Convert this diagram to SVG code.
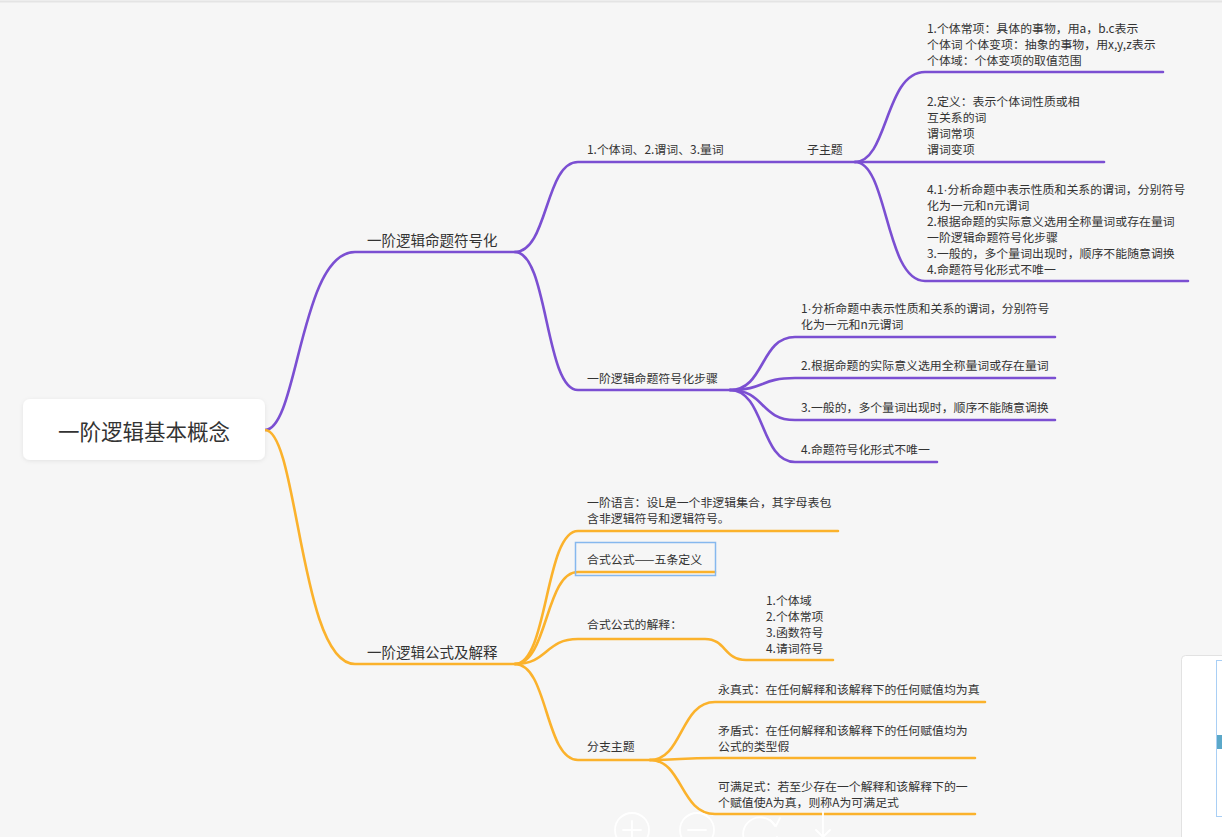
<svg xmlns="http://www.w3.org/2000/svg" width="1222" height="837" viewBox="0 0 1222 837">
<defs>
<style>
.p{fill:none;stroke:#7b4fd2;stroke-width:2.6;stroke-linecap:round}
.o{fill:none;stroke:#fbb22c;stroke-width:2.6;stroke-linecap:round}
.t{font-family:"Noto Sans CJK SC","Microsoft YaHei",sans-serif;fill:#333;font-size:11.9px}
.m{font-family:"Noto Sans CJK SC","Microsoft YaHei",sans-serif;fill:#333;font-size:14.5px}
.dot{font-family:"Liberation Sans",sans-serif}
.ui{fill:none;stroke:#ffffff;stroke-width:1.8;stroke-linecap:round}
</style>
<filter id="sh" x="-10%" y="-20%" width="120%" height="150%">
<feDropShadow dx="0" dy="1" stdDeviation="2" flood-color="#000" flood-opacity="0.08"/>
</filter>
</defs>
<rect width="1222" height="837" fill="#f6f6f6"/>
<line x1="0" y1="1.5" x2="1222" y2="1.5" stroke="#e4e4e4" stroke-width="2"/>

<g id="connectors">
<path class="p" d="M265,430 C298,430 300,252 355,252 L515,252"/>
<path class="p" d="M515,252 C548,252 545,162 578,162 L855,162"/>
<path class="p" d="M515,252 C548,252 545,390 578,390 L730,390"/>
<path class="p" d="M855,162 C888,162 885,72 925,72 L1163,72"/>
<path class="p" d="M855,162 L1104,162"/>
<path class="p" d="M855,162 C888,162 885,281 925,281 L1188,281"/>
<path class="p" d="M730,390 C765,390 760,337 795,337 L1055,337"/>
<path class="p" d="M730,390 C765,390 760,378 795,378 L1055,378"/>
<path class="p" d="M730,390 C765,390 760,420 795,420 L1055,420"/>
<path class="p" d="M730,390 C765,390 760,462 795,462 L937,462"/>

<path class="o" d="M265,430 C298,430 300,664 355,664 L515,664"/>
<path class="o" d="M515,664 C548,664 545,531 578,531 L838,531"/>
<path class="o" d="M515,664 C548,664 545,572 578,572 L715,572"/>
<path class="o" d="M515,664 C548,664 545,639 578,639 L705,639 C726,639 724,660 746,660 L833,660"/>
<path class="o" d="M515,664 C548,664 545,760 578,760 L650,760"/>
<path class="o" d="M650,760 C683,760 680,702 715,702 L985,702"/>
<path class="o" d="M650,760 C680,760 680,758 715,758 L975,758"/>
<path class="o" d="M650,760 C683,760 680,814 715,814 L975,814"/>
</g>

<g id="root">
<rect x="23" y="399" width="242" height="61" rx="7" fill="#ffffff" filter="url(#sh)"/>
<text x="144" y="440" text-anchor="middle" font-family="Noto Sans CJK SC, sans-serif" font-size="21.5" fill="#333">一阶逻辑基本概念</text>
</g>

<g id="b1"><text class="m" x="367" y="246">一阶逻辑命题符号化</text></g>
<g id="b1c1"><text class="t" x="587" y="154">1.个体词、2.谓词、3.量词</text></g>
<g id="b1c1s"><text class="t" x="807" y="154">子主题</text></g>
<g id="n_top">
<text class="t" x="927" y="33">1.个体常项：具体的事物，用a，b.c表示</text>
<text class="t" x="927" y="49">个体词 个体变项：抽象的事物，用x,y,z表示</text>
<text class="t" x="927" y="65">个体域：个体变项的取值范围</text>
</g>
<g id="n_mid">
<text class="t" x="927" y="106">2.定义：表示个体词性质或相</text>
<text class="t" x="927" y="122">互关系的词</text>
<text class="t" x="927" y="138">谓词常项</text>
<text class="t" x="927" y="154">谓词变项</text>
</g>
<g id="n_low">
<text class="t" x="927" y="194">4.1<tspan class="dot">·</tspan>分析命题中表示性质和关系的谓词，分别符号</text>
<text class="t" x="927" y="210">化为一元和n元谓词</text>
<text class="t" x="927" y="226">2.根据命题的实际意义选用全称量词或存在量词</text>
<text class="t" x="927" y="242">一阶逻辑命题符号化步骤</text>
<text class="t" x="927" y="258">3.一般的，多个量词出现时，顺序不能随意调换</text>
<text class="t" x="927" y="274">4.命题符号化形式不唯一</text>
</g>
<g id="b1c2"><text class="t" x="587" y="383">一阶逻辑命题符号化步骤</text></g>
<g id="s1">
<text class="t" x="801" y="313">1<tspan class="dot">·</tspan>分析命题中表示性质和关系的谓词，分别符号</text>
<text class="t" x="801" y="329">化为一元和n元谓词</text>
</g>
<g id="s2"><text class="t" x="801" y="370">2.根据命题的实际意义选用全称量词或存在量词</text></g>
<g id="s3"><text class="t" x="801" y="412">3.一般的，多个量词出现时，顺序不能随意调换</text></g>
<g id="s4"><text class="t" x="801" y="454">4.命题符号化形式不唯一</text></g>

<g id="b2"><text class="m" x="367" y="658">一阶逻辑公式及解释</text></g>
<g id="c1">
<text class="t" x="587" y="507">一阶语言：设L是一个非逻辑集合，其字母表包</text>
<text class="t" x="587" y="523">含非逻辑符号和逻辑符号。</text>
</g>
<g id="c2">
<rect x="575.5" y="542.5" width="140" height="33" fill="none" stroke="#86b8ee" stroke-width="1.5"/>
<text class="t" x="587" y="564">合式公式——五条定义</text>
</g>
<g id="c3"><text class="t" x="587" y="629">合式公式的解释：</text></g>
<g id="c3s">
<text class="t" x="766" y="605">1.个体域</text>
<text class="t" x="766" y="621">2.个体常项</text>
<text class="t" x="766" y="637">3.函数符号</text>
<text class="t" x="766" y="653">4.请词符号</text>
</g>
<g id="c4"><text class="t" x="587" y="751">分支主题</text></g>
<g id="d1"><text class="t" x="718" y="694">永真式：在任何解释和该解释下的任何赋值均为真</text></g>
<g id="d2">
<text class="t" x="718" y="735">矛盾式：在任何解释和该解释下的任何赋值均为</text>
<text class="t" x="718" y="751">公式的类型假</text>
</g>
<g id="d3">
<text class="t" x="718" y="791">可满足式：若至少存在一个解释和该解释下的一</text>
<text class="t" x="718" y="807">个赋值使A为真，则称A为可满足式</text>
</g>

<g id="minimap">
<rect x="1181.5" y="655.5" width="50" height="190" rx="4" fill="#ffffff" stroke="#e2e2e2"/>
<rect x="1216.5" y="660.5" width="10" height="156" fill="none" stroke="#a9cff5" stroke-width="1"/>
<rect x="1217" y="735" width="6" height="14" fill="#5ba8c9"/>
</g>

<g id="toolbar">
<circle class="ui" cx="632" cy="830" r="17"/>
<path class="ui" d="M623,830 H641 M632,821 V839"/>
<circle class="ui" cx="697" cy="830" r="17"/>
<path class="ui" d="M688,830 H706"/>
<path class="ui" d="M775,826 A17,17 0 1 0 777,837"/>
<path class="ui" d="M770,820 L776,826 L780,818"/>
<path class="ui" d="M823,812 V837 M816,830 L823,837 L830,830"/>
</g>
</svg>
